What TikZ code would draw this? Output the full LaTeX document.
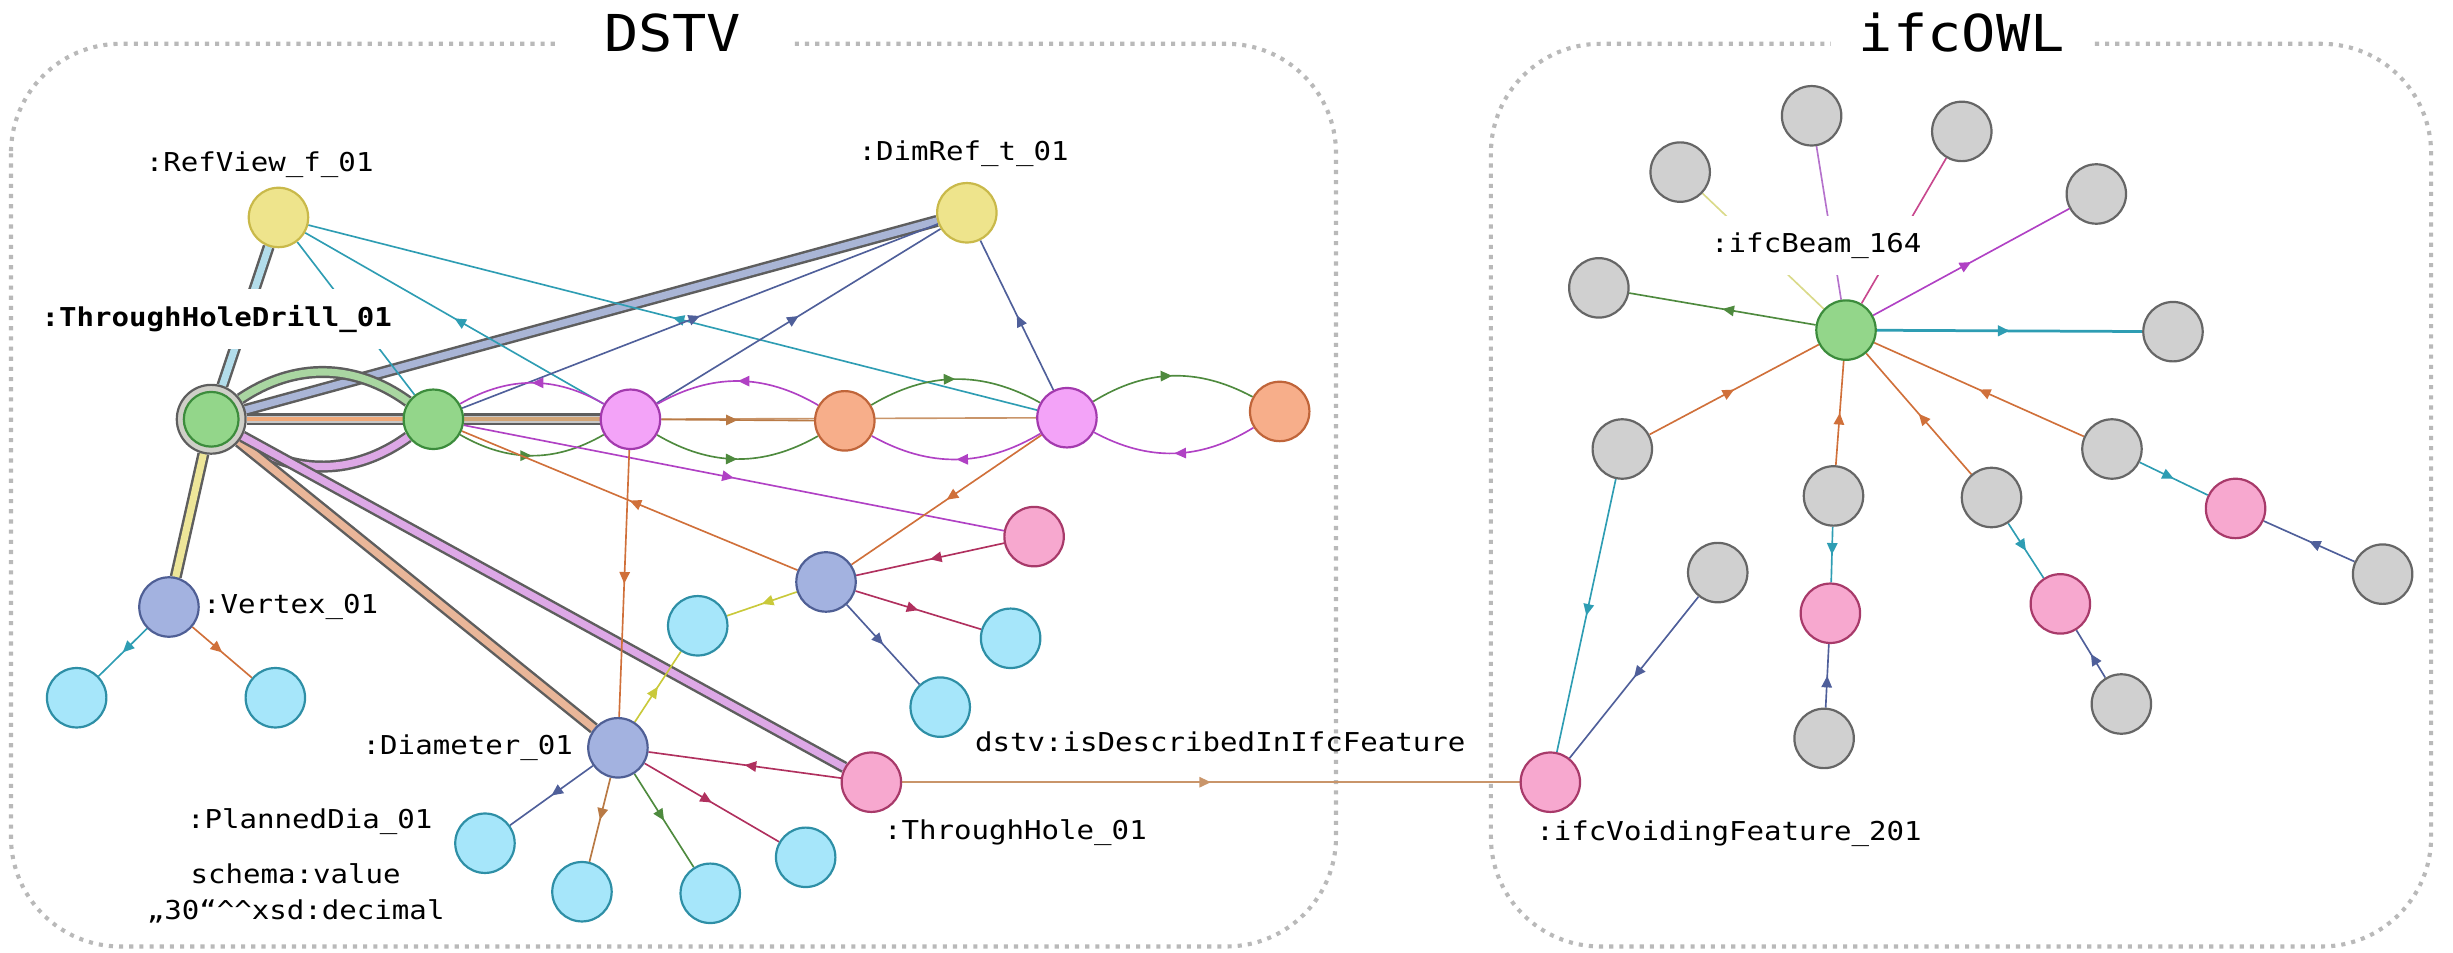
\documentclass[tikz,border=0pt]{standalone}
\usepackage{fontspec}
\setmonofont[FakeStretch=1.12]{DejaVu Sans Mono}
\usepackage{xcolor}
\usetikzlibrary{positioning, arrows.meta, decorations.markings, backgrounds}

% node colours
\definecolor{nGreen}{HTML}{93D68A}
\definecolor{nGreenD}{HTML}{3C8C3C}
\definecolor{nYellow}{HTML}{EEE48C}
\definecolor{nYellowD}{HTML}{C9B94A}
\definecolor{nViolet}{HTML}{F3A3F8}
\definecolor{nVioletD}{HTML}{A33AAE}
\definecolor{nOrange}{HTML}{F7AE8A}
\definecolor{nOrangeD}{HTML}{C0653A}
\definecolor{nRose}{HTML}{F7A8CF}
\definecolor{nRoseD}{HTML}{A83A6A}
\definecolor{nSlate}{HTML}{A3B2E0}
\definecolor{nSlateD}{HTML}{4F5F95}
\definecolor{nCyan}{HTML}{A6E6FA}
\definecolor{nCyanD}{HTML}{2E8FA6}
\definecolor{nGrey}{HTML}{D0D0D0}
\definecolor{nGreyD}{HTML}{666666}
\definecolor{nRing}{HTML}{CFCFC8}
% edge colours
\definecolor{eTeal}{HTML}{2E9DB3}
\definecolor{eSlate}{HTML}{4F5F9A}
\definecolor{eViolet}{HTML}{B041C4}
\definecolor{eGreen}{HTML}{4E8A3E}
\definecolor{eOrange}{HTML}{D0703A}
\definecolor{eBrown}{HTML}{B97A45}
\definecolor{eCrimson}{HTML}{B0305E}
\definecolor{eYellow}{HTML}{C9C93A}
\definecolor{eYellowL}{HTML}{DADA8A}
\definecolor{ePurpleL}{HTML}{B572CC}
\definecolor{ePink}{HTML}{C8488E}
\definecolor{eTan}{HTML}{C9956A}
% bundle colours
\definecolor{bOutline}{HTML}{5E5E5E}
\definecolor{bBlue}{HTML}{B3DDEB}
\definecolor{bYellow}{HTML}{EEE699}
\definecolor{bSlate}{HTML}{A9B5D6}
\definecolor{bGreen}{HTML}{A9D6A1}
\definecolor{bGrey}{HTML}{C8C8C8}
\definecolor{bOrange}{HTML}{F0A878}
\definecolor{bTan}{HTML}{D2A577}
\definecolor{bViolet}{HTML}{DDA8E6}
\definecolor{bSalmon}{HTML}{E9B699}

\newcommand{\lblfont}{\fontsize{9.45}{13.1}\selectfont\ttfamily}

\begin{document}
\begin{tikzpicture}[
        x=0.02cm, y=-0.02cm,
        res/.style={circle, draw, line width=0.8pt, minimum size=0.76cm, inner sep=0pt},
        resgreen/.style={res, fill=nGreen, draw=nGreenD},
        resyellow/.style={res, fill=nYellow, draw=nYellowD},
        resviolet/.style={res, fill=nViolet, draw=nVioletD},
        resorange/.style={res, fill=nOrange, draw=nOrangeD},
        resrose/.style={res, fill=nRose, draw=nRoseD},
        resslate/.style={res, fill=nSlate, draw=nSlateD},
        rescyan/.style={res, fill=nCyan, draw=nCyanD},
        resgrey/.style={res, fill=nGrey, draw=nGreyD},
        ring/.style={res, fill=nRing, draw=bOutline, minimum size=0.88cm},
        link/.style={draw=#1, line width=0.6pt},
        midarr/.style={postaction={decorate}, decoration={markings,
            mark=at position 0.5 with {\arrow{Triangle[length=4.2pt, width=3.8pt]}}}},
        linkarr/.style={link=#1, midarr},
        bundle/.style={draw=bOutline, line width=0.9pt, double=#1, double distance=2.6pt},
        core/.style={line width=1.4pt, draw=#1},
        panel/.style={draw=gray!55, line width=1.5pt, dash pattern=on 1.5pt off 2.2pt, rounded corners=1.4cm},
        title/.style={font=\fontsize{18.5}{22}\selectfont\ttfamily, fill=white, inner ysep=4pt},
        lbl/.style={font=\lblfont, inner sep=1pt},
        lblbox/.style={lbl, fill=white, minimum height=0.76cm, inner xsep=3pt},
    ]
    \useasboundingbox (0,0) rectangle (1568,609);

    % === DSTV NODES ===
    \node[ring] (thd) at (135,268) {};
    \node[resgreen, minimum size=0.7cm] (thdcore) at (thd) {};
    \node[resyellow] (refview) at (178,139) {};
    \node[resyellow] (dimref) at (618,136) {};
    \node[resgreen] (drill) at (277,268) {};
    \node[resviolet] (hole1) at (403,268) {};
    \node[resorange] (pos1) at (540,269) {};
    \node[resviolet] (hole2) at (682,267) {};
    \node[resorange] (pos2) at (818,263) {};
    \node[resrose] (feat) at (661,343) {};
    \node[resslate] (dim2) at (528,372) {};
    \node[rescyan] (val1) at (446,400) {};
    \node[rescyan] (val2) at (646,408) {};
    \node[rescyan] (val3) at (601,452) {};
    \node[resslate] (vertex) at (108,388) {};
    \node[rescyan] (vx) at (49,446) {};
    \node[rescyan] (vy) at (176,446) {};
    \node[resslate] (diameter) at (395,478) {};
    \node[resrose] (thole) at (557,500) {};
    \node[rescyan] (planned) at (310,539) {};
    \node[rescyan] (dval2) at (372,570) {};
    \node[rescyan] (dval3) at (454,571) {};
    \node[rescyan] (dval4) at (515,548) {};

    % === IFCOWL NODES ===
    \node[resgreen] (beam) at (1180,211) {};
    \node[resgrey] (b1) at (1074,110) {};
    \node[resgrey] (b2) at (1158,74) {};
    \node[resgrey] (b3) at (1254,84) {};
    \node[resgrey] (b4) at (1340,124) {};
    \node[resgrey] (b5) at (1022,184) {};
    \node[resgrey] (b6) at (1389,212) {};
    \node[resgrey] (b7) at (1037,287) {};
    \node[resgrey] (b8) at (1172,317) {};
    \node[resgrey] (b9) at (1273,318) {};
    \node[resgrey] (b10) at (1350,287) {};
    \node[resrose] (op1) at (1429,325) {};
    \node[resgrey] (b11) at (1523,367) {};
    \node[resrose] (op2) at (1170,392) {};
    \node[resgrey] (b12) at (1166,472) {};
    \node[resrose] (op3) at (1317,386) {};
    \node[resgrey] (b13) at (1356,450) {};
    \node[resgrey] (b14) at (1098,366) {};
    \node[resrose] (void) at (991,500) {};

    % === TITLES AND LABELS ===
    \node[title, inner xsep=0.62cm] (tdstv) at (430,21) {DSTV};
    \node[title, inner xsep=0.36cm] (tifc) at (1254,21) {ifcOWL};

    \node[lbl] (lrefview) at (166,105) {:RefView\_f\_01};
    \node[lbl] (ldimref) at (616,98) {:DimRef\_t\_01};
    \node[lblbox, anchor=west, font=\lblfont\bfseries] (lthd) at (21,204) {:ThroughHoleDrill\_01};
    \node[lbl, right=0pt of vertex] (lvertex) {:Vertex\_01};
    \node[lbl, left=0.14cm of diameter] (ldiameter) {:Diameter\_01};
    \node[lbl] (lplanned) at (198,525) {:PlannedDia\_01};
    \node[lbl, align=center] (lvalue) at (189,571) {schema:value\\„30“\textasciicircum\textasciicircum xsd:decimal};
    \node[lbl, anchor=west] (lthole) at (563,532) {:ThroughHole\_01};
    \node[lblbox] (lbeam) at (1161,157) {:ifcBeam\_164};
    \node[lbl, anchor=west] (lvoid) at (980,533) {:ifcVoidingFeature\_201};

    \begin{scope}[on background layer]
    % panels
    \draw[panel] (7,28) rectangle (854,605);
    \draw[panel] (953,28) rectangle (1554,605);

    % === BUNDLED EDGES ===
    \draw[bundle=bBlue] (thd) -- (refview);
    \draw[bundle=bYellow] (thd) -- (vertex);
    \draw[bundle=bSlate] (thd) -- (dimref);
    \draw[bundle=bGreen] (thd) to[bend left=35] (drill);
    \draw[bundle=bViolet] (thd) to[bend right=35] (drill);
    \draw[bundle=bGrey] (thd) -- (drill);
    \draw[core=bOrange] (thd) -- (drill);
    \draw[bundle=bSalmon] (thd) -- (diameter);
    \draw[bundle=bViolet] (thd) -- (thole);
    \draw[bundle=bGrey] (drill) -- (hole1);
    \draw[core=bTan] (drill) -- (hole1);

    % === DSTV EDGES ===
    \draw[link=eTeal] (refview) -- (drill);
    \draw[linkarr=eTeal] (hole1) -- (refview);
    \draw[linkarr=eTeal] (hole2) -- (refview);
    \draw[linkarr=eSlate] (drill) -- (dimref);
    \draw[linkarr=eSlate] (hole1) -- (dimref);
    \draw[linkarr=eSlate] (hole2) -- (dimref);

    % arcs along the row
    \draw[linkarr=eViolet] (hole1) to[bend right=30] (drill);
    \draw[linkarr=eGreen] (drill) to[bend right=30] (hole1);
    \draw[linkarr=eTan] (hole1) -- (hole2);
    \draw[linkarr=eBrown] (hole1) -- (pos1);
    \draw[linkarr=eViolet] (pos1) to[bend right=30] (hole1);
    \draw[linkarr=eGreen] (hole1) to[bend right=30] (pos1);
    \draw[linkarr=eGreen] (pos1) to[bend left=30] (hole2);
    \draw[linkarr=eViolet] (hole2) to[bend left=30] (pos1);
    \draw[linkarr=eGreen] (hole2) to[bend left=30] (pos2);
    \draw[linkarr=eViolet] (pos2) to[bend left=30] (hole2);

    \draw[linkarr=eViolet] (drill) -- (feat);
    \draw[linkarr=eOrange] (dim2) -- (drill);
    \draw[linkarr=eOrange] (hole2) -- (dim2);
    \draw[linkarr=eOrange] (hole1) -- (diameter);
    \draw[linkarr=eCrimson] (feat) -- (dim2);
    \draw[linkarr=eYellow] (dim2) -- (val1);
    \draw[linkarr=eCrimson] (dim2) -- (val2);
    \draw[linkarr=eSlate] (dim2) -- (val3);
    \draw[linkarr=eYellow] (diameter) -- (val1);
    \draw[linkarr=eCrimson] (thole) -- (diameter);
    \draw[linkarr=eSlate] (diameter) -- (planned);
    \draw[linkarr=eBrown] (diameter) -- (dval2);
    \draw[linkarr=eGreen] (diameter) -- (dval3);
    \draw[linkarr=eCrimson] (diameter) -- (dval4);
    \draw[linkarr=eTeal] (vertex) -- (vx);
    \draw[linkarr=eOrange] (vertex) -- (vy);

    % link between the two graphs
    \draw[linkarr=eTan] (thole) -- (void)
        node[lbl, midway, xshift=0.12cm, yshift=0.52cm] (lrel) {dstv:isDescribedInIfcFeature};

    % === IFCOWL EDGES ===
    \draw[link=eYellowL] (beam) -- (b1);
    \draw[link=ePurpleL] (beam) -- (b2);
    \draw[link=ePink] (beam) -- (b3);
    \draw[linkarr=eViolet] (beam) -- (b4);
    \draw[linkarr=eGreen] (beam) -- (b5);
    \draw[linkarr=eTeal, line width=1pt] (beam) -- (b6);
    \draw[linkarr=eOrange] (b7) -- (beam);
    \draw[linkarr=eOrange] (b8) -- (beam);
    \draw[linkarr=eOrange] (b9) -- (beam);
    \draw[linkarr=eOrange] (b10) -- (beam);
    \draw[linkarr=eTeal] (b10) -- (op1);
    \draw[linkarr=eSlate] (b11) -- (op1);
    \draw[linkarr=eTeal] (b8) -- (op2);
    \draw[linkarr=eSlate] (b12) -- (op2);
    \draw[linkarr=eTeal] (b9) -- (op3);
    \draw[linkarr=eSlate] (b13) -- (op3);
    \draw[linkarr=eTeal] (b7) -- (void);
    \draw[linkarr=eSlate] (b14) -- (void);
    \end{scope}

\end{tikzpicture}
\end{document}
